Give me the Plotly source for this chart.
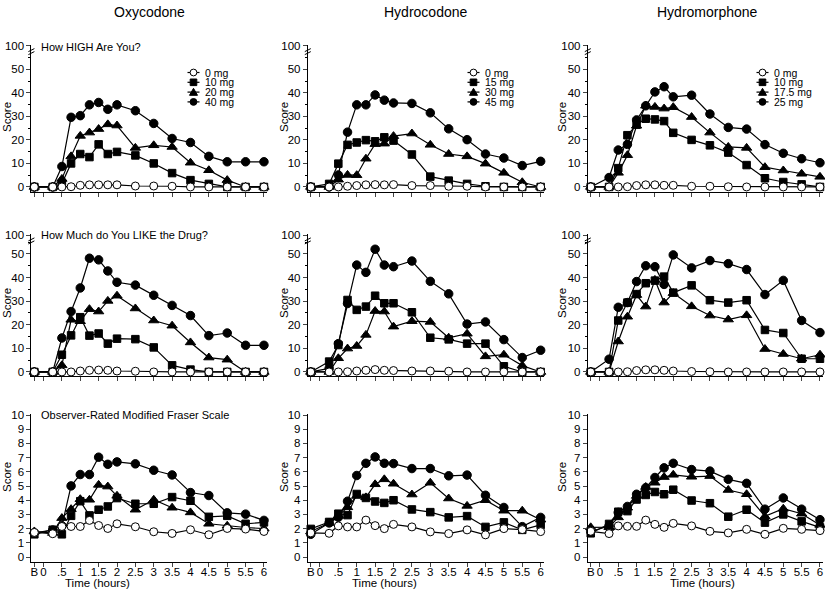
import plotly.graph_objects as go

W, H = 825, 591

# ---------------- data ----------------
time_x = [-0.25, 0.25, 0.5, 0.75, 1, 1.25, 1.5, 1.75, 2, 2.5, 3, 3.5, 4, 4.5, 5, 5.5, 6]
x_tick_vals = [-0.25, 0, 0.5, 1, 1.5, 2, 2.5, 3, 3.5, 4, 4.5, 5, 5.5, 6]
x_tick_text = ["B", "0", ".5", "1", "1.5", "2", "2.5", "3", "3.5", "4", "4.5", "5", "5.5", "6"]

drugs = ["Oxycodone", "Hydrocodone", "Hydromorphone"]
measures = ["How HIGH Are You?", "How Much do You LIKE the Drug?", "Observer-Rated Modified Fraser Scale"]
oxy_doses = ["0 mg", "10 mg", "20 mg", "40 mg"]
hyc_doses = ["0 mg", "15 mg", "30 mg", "45 mg"]
hym_doses = ["0 mg", "10 mg", "17.5 mg", "25 mg"]

# How HIGH
oxy_high_0 = [0, 0, 0, 0.1, 0.7, 0.9, 0.9, 0.9, 0.9, 0.4, 0.4, 0.3, 0, 0, 0, 0, 0]
oxy_high_10 = [0, 0, 1.5, 10, 14, 12.7, 18.1, 14, 14.9, 13.4, 10, 5.9, 2.9, 1.3, 0, 0, 0]
oxy_high_20 = [0, 0, 3.4, 13, 21.7, 23.1, 24.6, 26.6, 26.1, 16.6, 17.7, 17, 10.3, 7.1, 2.9, 0, 0]
oxy_high_40 = [0, 0, 8.7, 29.6, 30.3, 34.9, 35.9, 33, 34.9, 32.4, 27, 20.6, 18.9, 13, 10.7, 10.7, 10.7]

hyc_high_0 = [0, 0, 0, 0.3, 0.6, 0.9, 1.0, 0.9, 1.0, 0.6, 0.6, 0.3, 0.3, 0, 0, 0, 0]
hyc_high_15 = [0, 1.3, 9.9, 17.9, 18.9, 19.9, 19.4, 21.1, 19.7, 13.8, 4.4, 2.7, 1.3, 0.3, 0, 0, 0]
hyc_high_30 = [0, 0, 3.1, 5.1, 5.0, 12, 18.2, 18.4, 21.6, 22.7, 17.9, 14, 13, 9.9, 6, 2, 0]
hyc_high_45 = [0, 0, 5.1, 23.3, 34.9, 34.9, 39.1, 36.9, 35.7, 35.5, 31.5, 24.7, 20.1, 14, 12.3, 9.1, 10.9]

hym_high_0 = [0, 0, 0, 0.1, 0.6, 0.9, 0.9, 0.7, 0.7, 0.3, 0.3, 0.1, 0, 0, 0, 0, 0]
hym_high_10 = [0, 0, 8, 22, 26.5, 29, 28.7, 28, 23, 20, 17.7, 14.6, 9.3, 3.7, 2.1, 1.1, 0]
hym_high_17 = [0, 0, 6, 13.5, 26, 34.5, 34, 33.3, 33.9, 29.7, 23.1, 17, 16.6, 8.4, 7, 5.6, 4.3]
hym_high_25 = [0, 4, 15.7, 18.1, 28.5, 34.5, 40.4, 42.6, 38.3, 39, 31, 25.3, 24.6, 18, 14.3, 12, 10.3]

# How much LIKE
oxy_like_0 = [0, 0, 0, 0, 0.4, 0.7, 0.8, 0.7, 0.4, 0.3, 0, 0, 0, 0, 0, 0, 0]
oxy_like_10 = [0, 0, 7.3, 15.5, 23.2, 15.4, 16.3, 12, 14.1, 13.9, 10.4, 2.8, 1, 0, 0, 0, 0]
oxy_like_20 = [0, 0, 2.8, 22.1, 21.5, 26.6, 25.6, 30.1, 32.3, 26.9, 21.8, 19.6, 12.5, 6.1, 5.2, 0, 0]
oxy_like_40 = [0, 0, 14.4, 25.6, 35.6, 48.2, 47.5, 42.8, 38, 36.8, 32.5, 28.2, 23.9, 15.4, 16.5, 11.3, 11.3]

hyc_like_0 = [0, 0, 0, 0.1, 0.4, 0.7, 1.0, 0.7, 0.6, 0.4, 0.4, 0.3, 0, 0, 0, 0, 0]
hyc_like_15 = [0, 4.4, 11.4, 30.5, 26.3, 27.7, 32.3, 29.1, 29.1, 25.3, 14.5, 13.8, 12, 12, 2.4, 0, 0]
hyc_like_30 = [0, 0, 5.8, 9.9, 11, 15.7, 25.8, 25.6, 19.2, 21.5, 21.2, 14.5, 16.2, 6.6, 7.3, 2.7, 0]
hyc_like_45 = [0, 1.5, 12, 29, 45.3, 42.2, 52, 45.3, 44.6, 47, 38.4, 33.1, 20.3, 21.2, 13.7, 6.1, 9.2]

hym_like_0 = [0, 0, 0, 0.1, 0.6, 0.9, 0.9, 0.7, 0.4, 0.2, 0.1, 0, 0, 0, 0, 0, 0]
hym_like_10 = [0, 0, 21.8, 29.4, 33, 37.6, 38.7, 40.4, 33.6, 36.7, 30.4, 29.4, 30.4, 17.8, 16.5, 5.6, 5.6]
hym_like_17 = [0, 0, 12.9, 23.4, 32.6, 27.7, 39, 29.4, 33.4, 27.8, 23.9, 22.2, 24, 9.7, 7.6, 5.6, 7.3]
hym_like_25 = [0, 5.4, 27.4, 29.4, 38.3, 45, 44.6, 37.1, 49.6, 44.1, 47.2, 45.9, 43.4, 32.8, 38.8, 21.8, 16.7]

# Fraser scale
oxy_fr_0 = [1.73, 1.64, 2.15, 2.15, 2.15, 2.58, 2.22, 2.01, 2.34, 2.13, 1.78, 1.66, 1.92, 1.57, 2.01, 1.97, 1.8]
oxy_fr_10 = [1.6, 1.92, 1.6, 2.9, 3.93, 2.93, 3.33, 3.56, 4.15, 3.75, 3.75, 4.22, 3.96, 2.83, 2.9, 2.34, 2.44]
oxy_fr_20 = [1.8, 1.69, 2.74, 3.37, 4.07, 4.03, 5.08, 4.96, 4.31, 3.33, 4.03, 3.47, 3.14, 2.34, 2.2, 2.08, 2.0]
oxy_fr_40 = [1.7, 1.9, 2.2, 5.01, 5.81, 5.81, 7.03, 6.53, 6.7, 6.56, 6.11, 5.78, 4.54, 4.33, 3.11, 3.02, 2.58]

hyc_fr_0 = [1.7, 1.67, 2.19, 2.12, 2.12, 2.6, 2.21, 2.0, 2.3, 2.12, 1.77, 1.65, 1.91, 1.56, 2.0, 1.93, 1.79]
hyc_fr_15 = [1.98, 2.47, 3.05, 2.95, 4.44, 4.16, 3.91, 3.81, 4.0, 3.35, 3.16, 2.79, 2.88, 2.12, 2.44, 1.91, 2.26]
hyc_fr_30 = [1.8, 2.4, 2.9, 3.5, 4.3, 4.2, 5.12, 5.47, 5.16, 4.4, 5.23, 4.12, 3.6, 4.0, 3.26, 3.26, 2.63]
hyc_fr_45 = [1.6, 2.4, 2.8, 3.93, 5.74, 6.6, 7.05, 6.6, 6.58, 6.23, 6.23, 5.72, 5.77, 4.35, 3.49, 2.14, 2.79]

hym_fr_0 = [1.81, 1.65, 2.19, 2.16, 2.16, 2.6, 2.3, 2.09, 2.37, 2.19, 1.81, 1.7, 1.95, 1.6, 2.02, 1.95, 1.86]
hym_fr_10 = [1.67, 2.33, 3.19, 3.23, 4.05, 4.37, 4.58, 4.42, 4.74, 3.98, 3.79, 2.84, 3.33, 2.42, 3.0, 2.51, 2.09]
hym_fr_17 = [2.09, 2.1, 2.79, 3.47, 4.3, 4.93, 5.23, 5.63, 5.79, 5.65, 5.7, 4.72, 4.42, 2.86, 3.4, 3.05, 2.26]
hym_fr_25 = [1.8, 2.19, 3.14, 3.56, 4.42, 4.88, 5.6, 6.28, 6.6, 6.16, 6.05, 5.47, 5.19, 3.37, 4.16, 3.37, 2.63]

# y-axis ticks
vas_tick_text = ["0", "10", "20", "30", "40", "50", "100"]
fraser_tick_vals = [0, 1, 2, 3, 4, 5, 6, 7, 8, 9, 10]

panels = [
    [[oxy_high_0, oxy_high_10, oxy_high_20, oxy_high_40],
     [hyc_high_0, hyc_high_15, hyc_high_30, hyc_high_45],
     [hym_high_0, hym_high_10, hym_high_17, hym_high_25]],
    [[oxy_like_0, oxy_like_10, oxy_like_20, oxy_like_40],
     [hyc_like_0, hyc_like_15, hyc_like_30, hyc_like_45],
     [hym_like_0, hym_like_10, hym_like_17, hym_like_25]],
    [[oxy_fr_0, oxy_fr_10, oxy_fr_20, oxy_fr_40],
     [hyc_fr_0, hyc_fr_15, hyc_fr_30, hyc_fr_45],
     [hym_fr_0, hym_fr_10, hym_fr_17, hym_fr_25]],
]
dose_sets = [oxy_doses, hyc_doses, hym_doses]

# ---------------- layout geometry (pixels) ----------------
FONT = "Liberation Sans, Arial, Helvetica, sans-serif"
col_px = [(31.4, 266.9), (307.8, 543.6), (587.8, 822.9)]
row_px = [(44.6, 191.9), (233.9, 376.2), (413.6, 561.7)]
row_ranges = [[-2.1, 60.5], [-1.8, 58.5], [-0.33, 10.1]]
row_break_val = [60, 58]


def px_x(p):
    return p / W


def px_y(p):
    return 1 - p / H


def label(x, y, text, size=11, xanchor="center", angle=0):
    return dict(x=px_x(x), y=px_y(y), xref="paper", yref="paper", text=text,
                showarrow=False, xanchor=xanchor, yanchor="middle", textangle=angle,
                font=dict(size=size, family=FONT, color="black"))


symbols = ["circle", "square", "triangle-up", "circle"]
fills = ["white", "black", "black", "black"]
sizes = [8, 7.5, 9, 8.5]

fig = go.Figure()
layout = dict(
    width=W, height=H, margin=dict(l=0, r=0, t=0, b=0, autoexpand=False),
    paper_bgcolor="white", plot_bgcolor="white", showlegend=False,
    font=dict(family=FONT, color="black", size=11),
)
annotations = []
shapes = []

for r in range(3):
    for c in range(3):
        k = r * 3 + c + 1
        xa = "x" if k == 1 else f"x{k}"
        ya = "y" if k == 1 else f"y{k}"
        series = panels[r][c]
        labels = dose_sets[c]
        for i in [3, 2, 1, 0]:
            fig.add_trace(go.Scatter(
                x=time_x, y=series[i], name=labels[i], mode="lines+markers",
                xaxis=xa, yaxis=ya,
                line=dict(color="black", width=1.2),
                marker=dict(symbol=symbols[i], size=sizes[i], color=fills[i],
                            line=dict(color="black", width=1)),
                cliponaxis=False,
            ))
        xkey = "xaxis" if k == 1 else f"xaxis{k}"
        ykey = "yaxis" if k == 1 else f"yaxis{k}"
        layout[xkey] = dict(
            domain=[px_x(col_px[c][0]), px_x(col_px[c][1])],
            anchor=ya, range=[-0.33, 6.08], automargin=False,
            tickvals=x_tick_vals, ticktext=x_tick_text, tickangle=0,
            showticklabels=(r == 2), ticks="outside", ticklen=4, tickwidth=1,
            ticklabelstandoff=-5,
            showline=True, linecolor="black", linewidth=1,
            showgrid=False, zeroline=False, fixedrange=True,
            tickfont=dict(size=11.5, family=FONT, color="black"),
        )
        ydict = dict(
            domain=[px_y(row_px[r][1]), px_y(row_px[r][0])],
            anchor=xa, range=row_ranges[r], automargin=False,
            ticks="outside", ticklen=4, tickwidth=1,
            showline=True, linecolor="black", linewidth=1,
            showgrid=False, zeroline=False, fixedrange=True,
            tickfont=dict(size=11.5, family=FONT, color="black"),
        )
        if r < 2:
            ydict["tickvals"] = [0, 10, 20, 30, 40, 50, row_break_val[r]]
            ydict["ticktext"] = vas_tick_text
            ydict["minor"] = dict(tick0=0, dtick=5, ticks="outside", ticklen=2,
                                  tickcolor="black", showgrid=False)
        else:
            ydict["tickvals"] = fraser_tick_vals
        layout[ykey] = ydict

        # "Score" label
        annotations.append(label([7, 284, 562][c], [117, 303, 477][r], "Score",
                                 size=11.5, angle=-90))

        # axis break marks
        if r < 2:
            ax = col_px[c][0]
            by = row_px[r][0] + 5.5
            for dy in (0, 3):
                shapes.append(dict(type="line", xref="paper", yref="paper",
                                   x0=px_x(ax - 3), y0=px_y(by + dy + 1.5),
                                   x1=px_x(ax + 3), y1=px_y(by + dy - 1.5),
                                   line=dict(color="black", width=1)))

# column titles
for c, name in enumerate(drugs):
    annotations.append(label([149, 425, 707][c], 12, name, size=14))

# panel titles (left column)
for r, title in enumerate(measures):
    annotations.append(label(39, [47, 235, 415][r], title, size=11, xanchor="left"))

# x-axis titles
for c in range(3):
    annotations.append(label([97, 384, 702][c], 583, "Time (hours)", size=11.5))

# legends (top row), drawn as swatches
leg_marker_x = [193.5, 473.5, 762.5]
leg_rows_y = [72.5, 82.3, 92.1, 101.9]
for c in range(3):
    mx = leg_marker_x[c]
    for i, lab in enumerate(dose_sets[c]):
        y = leg_rows_y[i]
        shapes.append(dict(type="line", xref="paper", yref="paper",
                           x0=px_x(mx - 6), x1=px_x(mx + 6), y0=px_y(y), y1=px_y(y),
                           line=dict(color="black", width=1.2)))
        s = 3.4
        if symbols[i] == "circle":
            shapes.append(dict(type="circle", xref="paper", yref="paper",
                               x0=px_x(mx - s), x1=px_x(mx + s), y0=px_y(y + s), y1=px_y(y - s),
                               fillcolor=fills[i], line=dict(color="black", width=1)))
        elif symbols[i] == "square":
            shapes.append(dict(type="rect", xref="paper", yref="paper",
                               x0=px_x(mx - 3.3), x1=px_x(mx + 3.3), y0=px_y(y + 3.3), y1=px_y(y - 3.3),
                               fillcolor="black", line=dict(color="black", width=1)))
        else:
            path = (f"M {px_x(mx - 4)},{px_y(y + 3.2)} L {px_x(mx + 4)},{px_y(y + 3.2)} "
                    f"L {px_x(mx)},{px_y(y - 3.8)} Z")
            shapes.append(dict(type="path", xref="paper", yref="paper", path=path,
                               fillcolor="black", line=dict(color="black", width=1)))
        annotations.append(label(mx + 9, y, lab, size=10.5, xanchor="left"))

layout["annotations"] = annotations
layout["shapes"] = shapes
fig.update_layout(**layout)
fig.write_html(
    "out.html",
    config={"displayModeBar": False},
    post_script="document.body.style.margin='0';document.body.style.overflow='hidden';",
)
